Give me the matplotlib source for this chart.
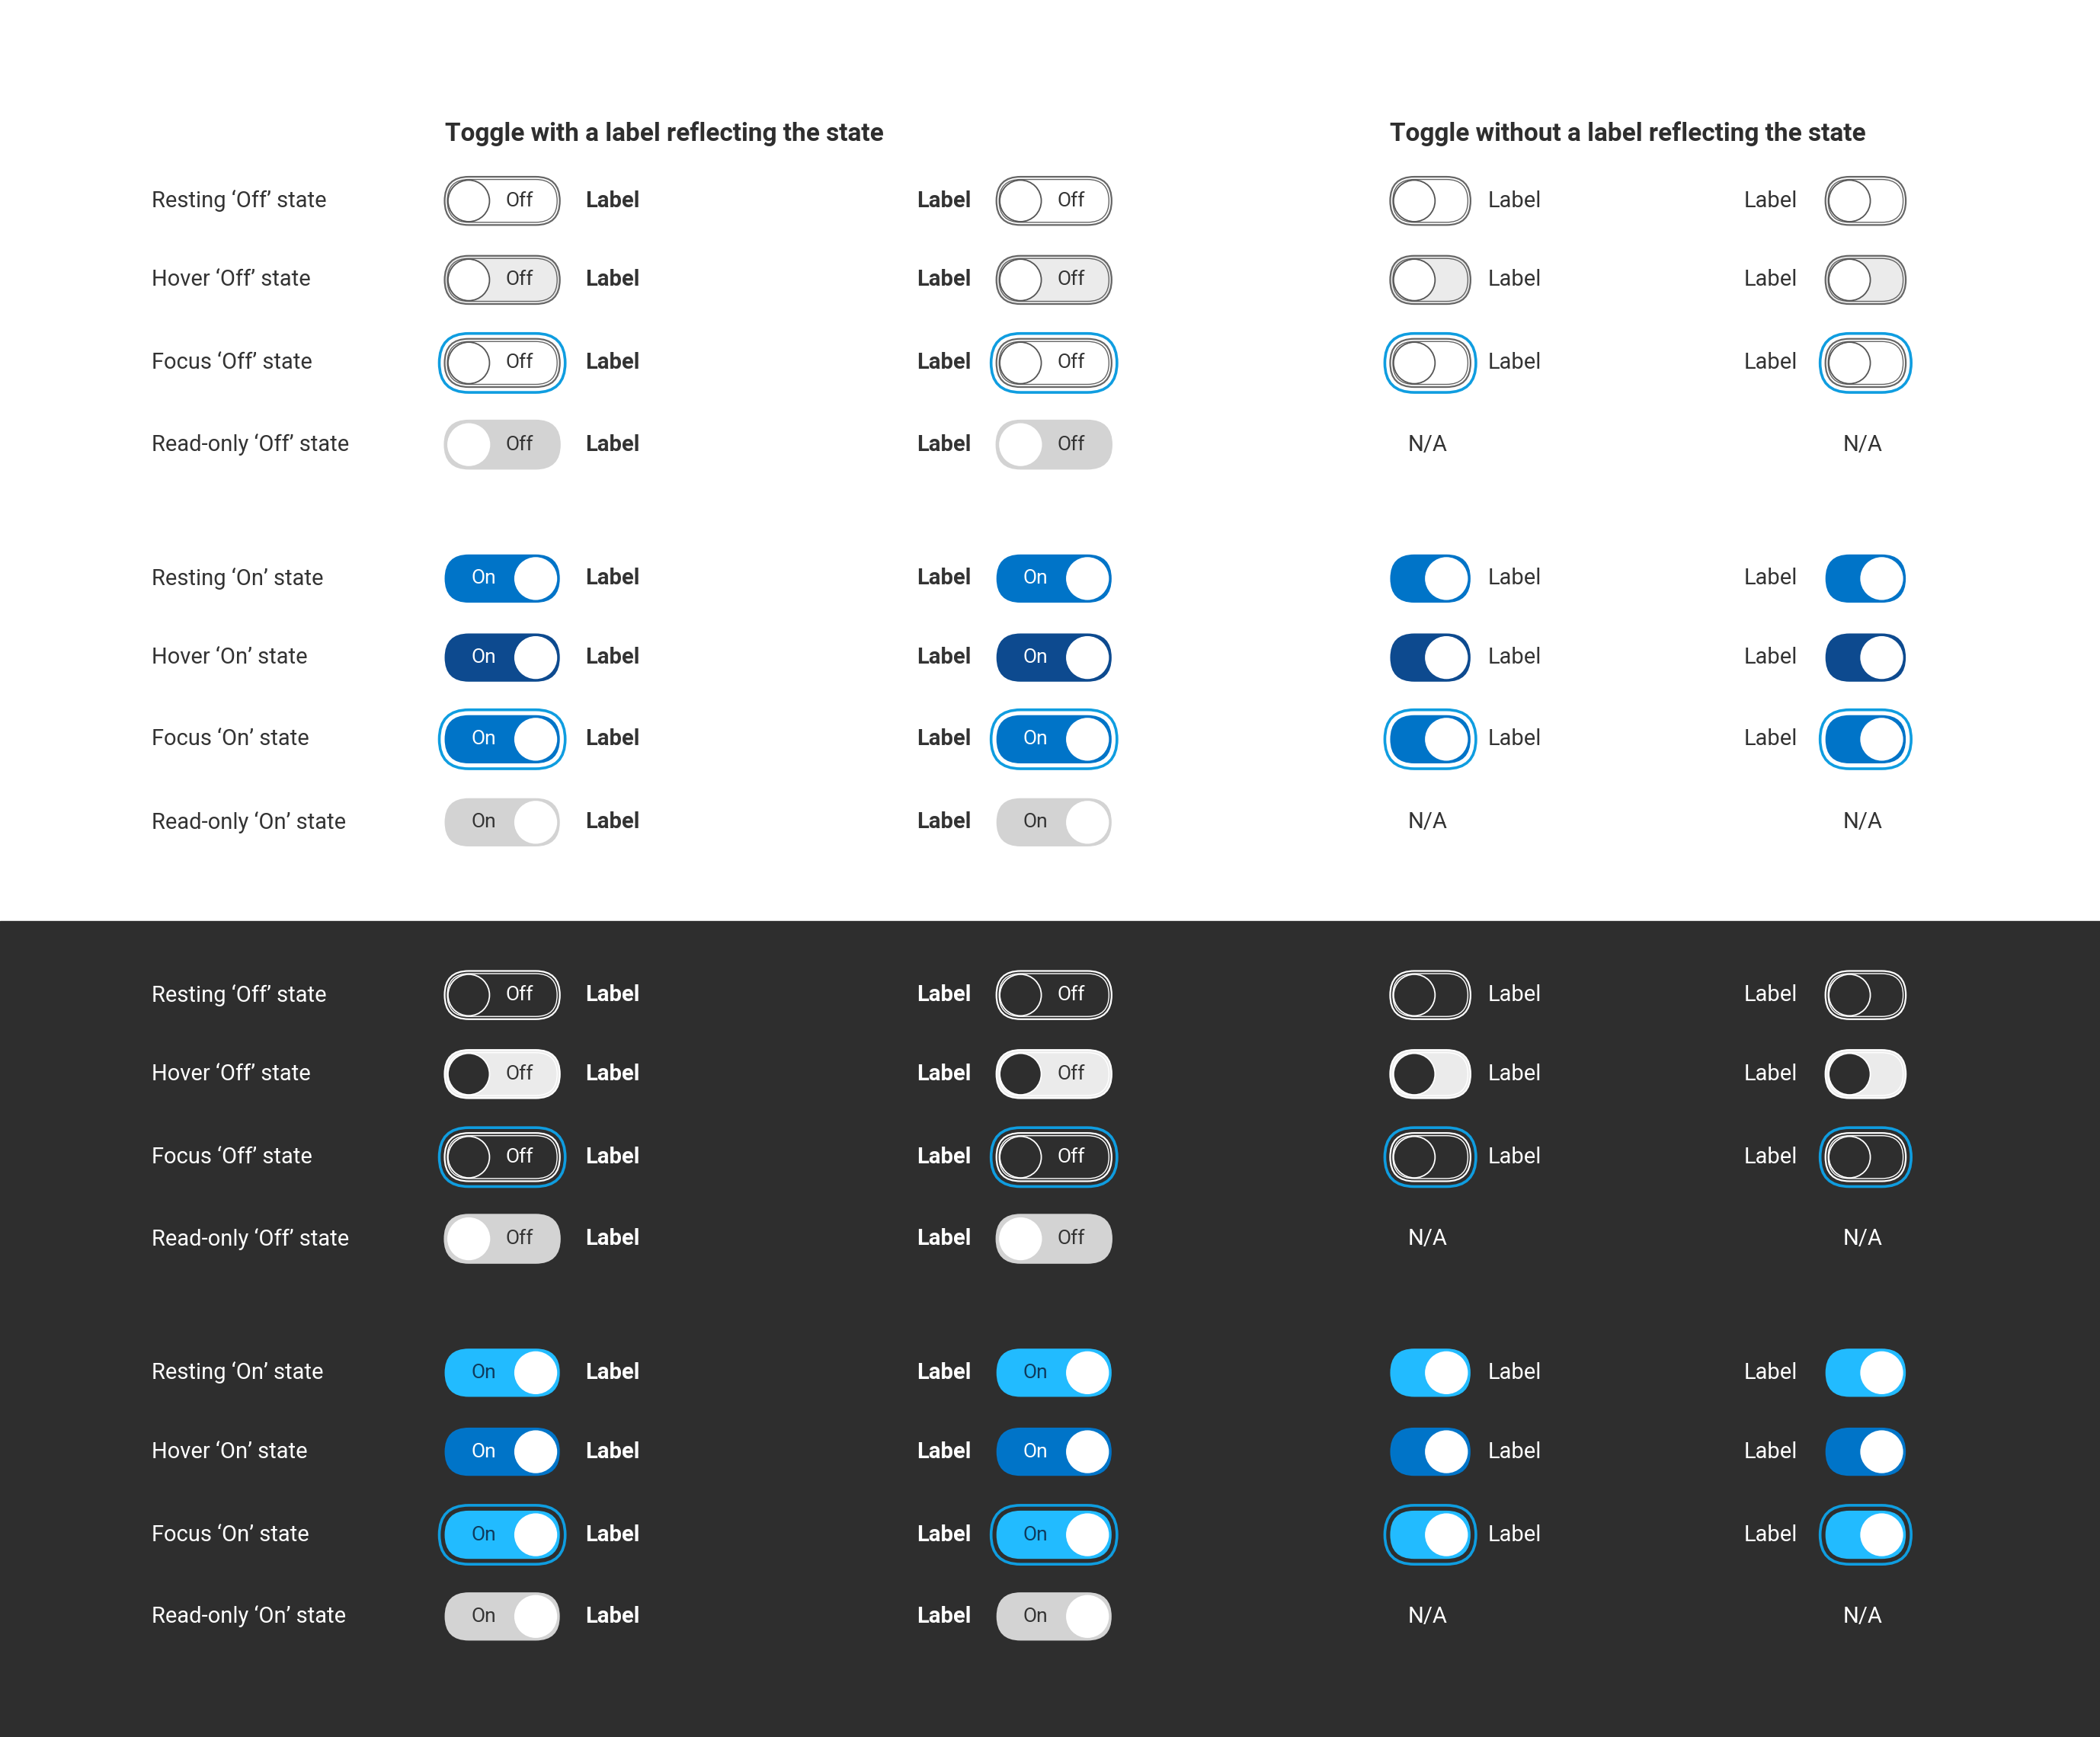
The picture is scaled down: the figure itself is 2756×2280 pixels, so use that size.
import matplotlib
matplotlib.use("Agg")
import matplotlib.pyplot as plt
from matplotlib.patches import FancyBboxPatch, Circle, Rectangle

W, H = 1568, 1297
titles = ["Toggle with a label reflecting the state", "Toggle without a label reflecting the state"]
row_labels = ["Resting \u2018Off\u2019 state", "Hover \u2018Off\u2019 state", "Focus \u2018Off\u2019 state", "Read-only \u2018Off\u2019 state",
              "Resting \u2018On\u2019 state", "Hover \u2018On\u2019 state", "Focus \u2018On\u2019 state", "Read-only \u2018On\u2019 state"]
row_states = ["resting", "hover", "focus", "readonly"] * 2
row_on = [False] * 4 + [True] * 4
rows_y_light = [150, 209, 271, 332, 432, 491, 552, 614]
rows_y_dark = [743, 802, 864, 925, 1025, 1084, 1146, 1207]

fig = plt.figure(figsize=(27.56, 22.80), dpi=100)
ax = fig.add_axes([0, 0, 1, 1])
ax.set_xlim(0, W); ax.set_ylim(H, 0); ax.axis("off")
ax.add_patch(Rectangle((0, 0), W, H, color="white", zorder=0))
ax.add_patch(Rectangle((0, 688), W, H - 688, color="#2e2e2e", zorder=0))

FONT = "Roboto"
BLUE_RING = "#0f9de0"

def pill(x0, yc, w, h, fc, ec, lw, z=2):
    ax.add_patch(FancyBboxPatch((x0, yc - h / 2), w, h, boxstyle=f"round,pad=0,rounding_size={h/2}",
                                fc=fc, ec=ec, lw=lw, zorder=z))

def toggle(x0, yc, w, state, on, dark, text):
    h = 36
    txtcol = "#333333"
    if not on:
        if state == "readonly":
            fc, ec, kfc, kec = "#d3d3d3", "#d3d3d3", "white", "white"
        elif state == "hover":
            fc = "#ebebeb"
            ec = "white" if dark else "#666666"
            kfc = "#2e2e2e" if dark else "white"
            kec = "white" if dark else "#555555"
        else:
            fc = "none"
            ec = "white" if dark else "#666666"
            kfc = "none"
            kec = "white" if dark else "#555555"
            if dark:
                txtcol = "white"
        kx = x0 + 18
        tx = x0 + w - 30
        ttxt = "Off"
    else:
        if state == "readonly":
            fc = "#d3d3d3"; txtcol = "#333333"
        elif state == "hover":
            fc = "#0074c8" if dark else "#0d4a8f"; txtcol = "white"
        else:
            fc = "#22bbff" if dark else "#0074c8"
            txtcol = "#0f3a5c" if dark else "white"
        ec = fc; kfc = "white"; kec = "white"
        kx = x0 + w - 18
        tx = x0 + 29
        ttxt = "On"
    if state == "focus":
        pill(x0 - 4, yc, w + 8, h + 8, "none", BLUE_RING, 2.6, z=2)
    pill(x0, yc, w, h, fc, ec, 1.6 if not on else 0, z=3)
    if not on and state in ("resting", "focus", "hover") :
        pill(x0 + 2, yc, w - 4, h - 4, "none", ec, 1.0, z=3)
    ax.add_patch(Circle((kx, yc), 15.5, fc=kfc, ec=kec, lw=1.3, zorder=4))
    if text:
        ax.text(tx, yc, ttxt, ha="center", va="center", fontsize=19, color=txtcol, family=FONT, zorder=5)

ax.text(332, 100, titles[0], fontsize=24, fontweight="bold", color="#2e2e2e", family=FONT, va="center")
ax.text(1038, 100, titles[1], fontsize=24, fontweight="bold", color="#2e2e2e", family=FONT, va="center")

for dark, ys in [(False, rows_y_light), (True, rows_y_dark)]:
    tc = "white" if dark else "#333333"
    for lab, st, on, y in zip(row_labels, row_states, row_on, ys):
        ax.text(113, y, lab, fontsize=21, color=tc, family=FONT, va="center")
        toggle(332, y, 86, st, on, dark, True)
        ax.text(437, y, "Label", fontsize=21, fontweight="bold", color=tc, family=FONT, va="center")
        ax.text(725, y, "Label", fontsize=21, fontweight="bold", color=tc, family=FONT, va="center", ha="right")
        toggle(744, y, 86, st, on, dark, True)
        if st == "readonly":
            ax.text(1066, y, "N/A", fontsize=21, color=tc, family=FONT, va="center", ha="center")
            ax.text(1391, y, "N/A", fontsize=21, color=tc, family=FONT, va="center", ha="center")
        else:
            toggle(1038, y, 60, st, on, dark, False)
            ax.text(1111, y, "Label", fontsize=21, color=tc, family=FONT, va="center")
            ax.text(1342, y, "Label", fontsize=21, color=tc, family=FONT, va="center", ha="right")
            toggle(1363, y, 60, st, on, dark, False)

fig.savefig("out.png", dpi=100)
